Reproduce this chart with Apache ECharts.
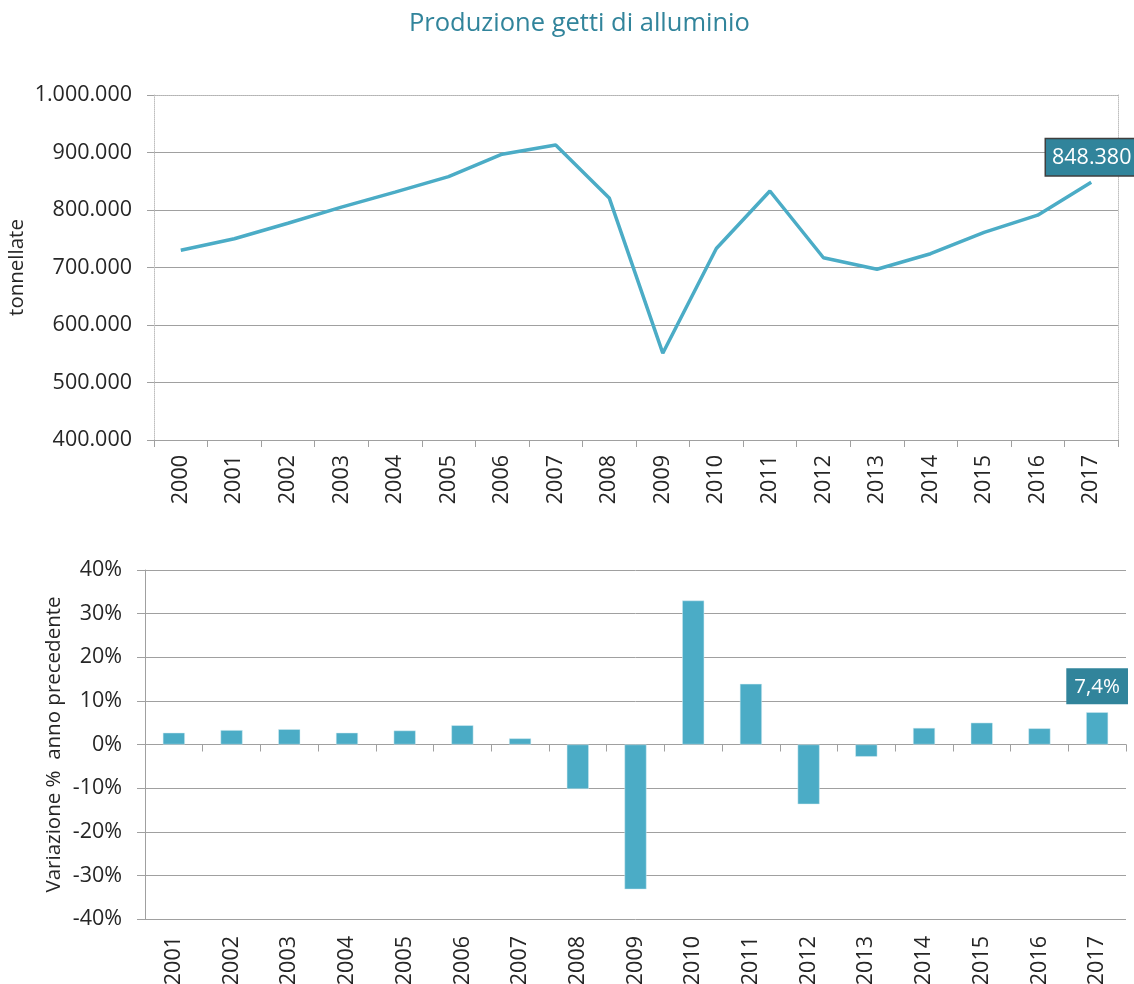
<!DOCTYPE html>
<html>
<head>
<meta charset="utf-8">
<title>Produzione getti di alluminio</title>
<script src="https://cdn.jsdelivr.net/npm/echarts@6/dist/echarts.min.js"></script>
<style>
  html, body { margin: 0; padding: 0; background: #fff; }
  #chart { width: 1134px; height: 984px; }
</style>
</head>
<body>
<div id="chart"></div>
<script>
// anni e dati
var anni = ['2000', '2001', '2002', '2003', '2004', '2005', '2006', '2007', '2008',
  '2009', '2010', '2011', '2012', '2013', '2014', '2015', '2016', '2017'];
var tonnellate = [730000, 750000, 777000, 805000, 831000, 858000, 897000, 913000, 821000,
  551000, 733000, 833000, 717000, 697000, 724000, 761000, 791000, 848380];

var anniVar = ['2001', '2002', '2003', '2004', '2005', '2006', '2007', '2008', '2009',
  '2010', '2011', '2012', '2013', '2014', '2015', '2016', '2017'];
var variazione = [2.7, 3.3, 3.5, 2.7, 3.2, 4.4, 1.4, -10.2, -33.2,
  33.0, 13.9, -13.7, -2.8, 3.8, 5.0, 3.7, 7.4];

var fontLbl = 'Open Sans';
var txtColor = '#262626';
var gridColor = '#a0a0a0';
var azzurro = '#4BACC6';
var petrolio = '#31849B';
var fs = 21.5;

function migliaia(v) {
  return String(Math.round(v)).replace(/\B(?=(\d{3})+(?!\d))/g, '.');
}

var lineData = tonnellate.map(function (v, i) {
  if (i === tonnellate.length - 1) {
    return {
      value: v,
      label: {
        show: true, position: 'top', distance: 7,
        formatter: function (p) { return migliaia(p.value); },
        backgroundColor: petrolio, borderColor: '#3f3f3f', borderWidth: 1.5,
        padding: [8, 5, 6, 6], color: '#fff', fontSize: 21.5, fontFamily: fontLbl
      }
    };
  }
  return v;
});

var barData = variazione.map(function (v, i) {
  if (i === variazione.length - 1) {
    return {
      value: v,
      label: {
        show: true, position: 'top', distance: 8,
        formatter: function (p) { return String(p.value).replace('.', ',') + '%'; },
        backgroundColor: petrolio, padding: [8, 8, 7, 8],
        color: '#fff', fontSize: 20.5, fontFamily: fontLbl
      }
    };
  }
  return v;
});

var chart = echarts.init(document.getElementById('chart'));
chart.setOption({
  animation: false,
  title: {
    text: 'Produzione getti di alluminio',
    left: 404, top: 6,
    textStyle: { color: petrolio, fontSize: 25.5, fontWeight: 'normal', fontFamily: fontLbl }
  },
  grid: [
    { left: 154, right: 16, top: 95, height: 345, outerBoundsMode: 'none' },
    { left: 145, right: 8, top: 570, height: 349, outerBoundsMode: 'none' }
  ],
  xAxis: [
    {
      type: 'category', gridIndex: 0, data: anni,
      axisLine: { lineStyle: { color: gridColor } },
      axisTick: { show: true, length: 7, lineStyle: { color: gridColor } },
      axisLabel: { rotate: 90, margin: 15, color: txtColor, fontSize: fs, fontFamily: fontLbl }
    },
    {
      type: 'category', gridIndex: 0, position: 'top', data: anni,
      axisLine: { lineStyle: { color: '#bfbfbf', type: 'dotted' } },
      axisTick: { show: false }, axisLabel: { show: false }
    },
    {
      type: 'category', gridIndex: 1, data: anniVar,
      axisLine: { onZero: true, lineStyle: { color: gridColor } },
      axisTick: { show: true, length: 7, lineStyle: { color: gridColor } },
      axisLabel: { show: false }
    },
    {
      type: 'category', gridIndex: 1, position: 'bottom', data: anniVar,
      axisLine: { show: false, onZero: false }, axisTick: { show: false },
      axisLabel: { rotate: 90, margin: 17, color: txtColor, fontSize: fs, fontFamily: fontLbl }
    }
  ],
  yAxis: [
    {
      type: 'value', gridIndex: 0, min: 400000, max: 1000000, interval: 100000,
      name: 'tonnellate', nameLocation: 'middle', nameGap: 126, nameRotate: 90,
      nameMoveOverlap: false,
      nameTextStyle: { color: txtColor, fontSize: 20.5, fontFamily: fontLbl },
      axisLine: { show: true, lineStyle: { color: '#bfbfbf', type: 'dotted' } },
      axisTick: { show: true, length: 7, lineStyle: { color: gridColor } },
      axisLabel: { margin: 22, color: txtColor, fontSize: fs, fontFamily: fontLbl, formatter: migliaia },
      splitLine: { lineStyle: { color: gridColor } }
    },
    {
      type: 'value', gridIndex: 0, position: 'right', min: 400000, max: 1000000, interval: 100000,
      axisLine: { show: true, lineStyle: { color: '#bfbfbf', type: 'dotted' } },
      axisTick: { show: false }, axisLabel: { show: false }, splitLine: { show: false }
    },
    {
      type: 'value', gridIndex: 1, min: -40, max: 40, interval: 10,
      name: 'Variazione %  anno precedente', nameLocation: 'middle', nameGap: 80, nameRotate: 90,
      nameMoveOverlap: false,
      nameTextStyle: { color: txtColor, fontSize: 20.5, fontFamily: fontLbl },
      axisLine: { show: true, lineStyle: { color: gridColor } },
      axisTick: { show: true, length: 8, lineStyle: { color: gridColor } },
      axisLabel: { margin: 23, color: txtColor, fontSize: fs, fontFamily: fontLbl,
        formatter: function (v) { return v + '%'; } },
      splitLine: { lineStyle: { color: gridColor } }
    }
  ],
  series: [
    {
      type: 'line', xAxisIndex: 0, yAxisIndex: 0, data: lineData,
      symbol: 'circle', symbolSize: 0, showSymbol: true,
      lineStyle: { color: azzurro, width: 3.5 },
      itemStyle: { color: azzurro }
    },
    {
      type: 'bar', xAxisIndex: 2, yAxisIndex: 2, data: barData,
      barWidth: 22,
      itemStyle: { color: azzurro, borderColor: '#d6edf3', borderWidth: 0.5 }
    }
  ]
});
</script>
</body>
</html>
